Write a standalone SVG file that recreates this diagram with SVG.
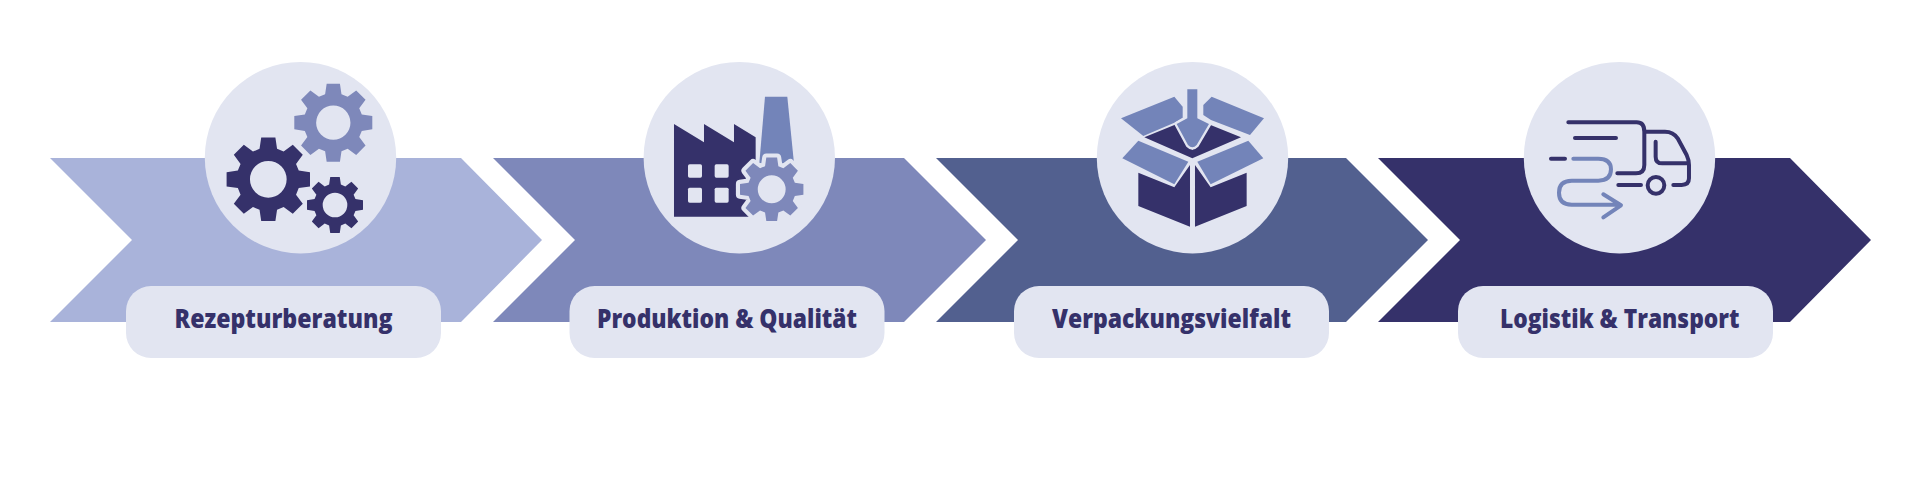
<svg xmlns="http://www.w3.org/2000/svg" xmlns:xlink="http://www.w3.org/1999/xlink" width="1920" height="480" viewBox="0 0 1920 480">
<style>
.disc,.pill{fill:#e2e5f1}
.label{font-family:"Open Sans","Liberation Sans",sans-serif;font-weight:800;font-size:26px;fill:#35316a}
.dark{fill:#35316a}
.mid{fill:#7384b9}
.gearmid{fill:#7e88ba}
.win{fill:#e2e5f1}
.ln{fill:none;stroke:#35316a;stroke-width:12;stroke-linecap:round;stroke-linejoin:round}
.lm{fill:none;stroke:#7384b9;stroke-width:12;stroke-linecap:round;stroke-linejoin:round}
</style>
<defs>
<path id="gear" fill-rule="evenodd" d="M73-21L100-17V17L73 21L66.5 36.8L82.7 58.7L58.7 82.7L36.8 66.5L21 73L17 100H-17L-21 73L-36.8 66.5L-58.7 82.7L-82.7 58.7L-66.5 36.8L-73 21L-100 17V-17L-73-21L-66.5-36.8L-82.7-58.7L-58.7-82.7L-36.8-66.5L-21-73L-17-100H17L21-73L36.8-66.5L58.7-82.7L82.7-58.7L66.5-36.8ZM44 0A44 44 0 1 0-44 0A44 44 0 1 0 44 0Z"/>
</defs>
<g id="step-rezepturberatung">
<path fill="#a9b3da" d="M50 158H461L542 240L461 322H50L132 240Z"/>
<circle class="disc" cx="300.5" cy="157.7" r="95.7"/>
<use xlink:href="#gear" class="dark" transform="translate(268.3 179.3) scale(.417)"/>
<use xlink:href="#gear" class="gearmid" transform="translate(333.3 122.7) scale(.39)"/>
<use xlink:href="#gear" class="dark" transform="translate(335 205) scale(.28)"/>
<rect class="pill" x="126" y="286" width="315" height="72" rx="25"/>
<text class="label" x="174.5" y="328" textLength="218" lengthAdjust="spacingAndGlyphs">Rezepturberatung</text>
</g>
<g id="step-produktion">
<path fill="#7e88ba" d="M493 158H904L986 240L904 322H493L575 240Z"/>
<circle class="disc" cx="739.3" cy="157.7" r="95.7"/>
<g transform="translate(630 50) scale(.3333)">
<path class="mid" d="M405 140H472L492 340H388Z"/>
<path class="dark" d="M132 222L222 277V222L312 277V222L377 262V500H132Z"/>
<rect class="win" x="174" y="343" width="42" height="40" rx="5"/>
<rect class="win" x="254" y="343" width="42" height="40" rx="5"/>
<rect class="win" x="174" y="413" width="42" height="45" rx="5"/>
<rect class="win" x="254" y="413" width="42" height="45" rx="5"/>
</g>
<use xlink:href="#gear" class="gearmid" style="stroke:#e2e5f1;stroke-width:26;paint-order:stroke;stroke-linejoin:round" transform="translate(771.7 189.3) scale(.317)"/>
<rect class="pill" x="569.5" y="286" width="315" height="72" rx="25"/>
<text class="label" x="597" y="328" textLength="260" lengthAdjust="spacingAndGlyphs">Produktion &amp; Qualität</text>
</g>
<g id="step-verpackungsvielfalt">
<path fill="#52608f" d="M936 158H1346L1428 240L1346 322H936L1018 240Z"/>
<circle class="disc" cx="1192.5" cy="157.7" r="95.7"/>
<g transform="translate(1085 50) scale(.3333)">
<path class="dark" d="M178 262L270 224L322 300L375 224L468 262L322 325Z"/>
<path class="mid" d="M108 205L268 140L293 170V203L268 218L175 258Z"/>
<path class="mid" d="M355 195V165L380 140L537 205L495 255L378 210Z"/>
<path class="mid" style="stroke:#e2e5f1;stroke-width:14;paint-order:stroke;stroke-linejoin:round" d="M307 118H337V205L372 222L335 285Q322 298 309 285L275 222L307 205Z"/>
<path class="mid" d="M112 325L160 272L310 335L268 403Z"/>
<path class="mid" d="M337 335L490 272L535 325L377 403Z"/>
<path class="dark" d="M160 368L268 412L315 345V530L160 468Z"/>
<path class="dark" d="M330 345L377 412L485 368V468L330 530Z"/>
</g>
<rect class="pill" x="1014" y="286" width="315" height="72" rx="25"/>
<text class="label" x="1052" y="328" textLength="239" lengthAdjust="spacingAndGlyphs">Verpackungsvielfalt</text>
</g>
<g id="step-logistik">
<path fill="#35316a" d="M1378 158H1790L1871 240L1790 322H1378L1460 240Z"/>
<circle class="disc" cx="1619.5" cy="157.7" r="95.7"/>
<g transform="translate(1510 50) scale(.3333)">
<path class="ln" d="M175 217H380Q403 217 403 245V345Q403 370 378 370H322"/>
<path class="ln" d="M405 245H465Q490 245 503 265L530 315Q537 330 537 345V385Q537 405 515 405H490"/>
<path class="ln" d="M437 275V320Q437 340 457 340H530"/>
<path class="ln" d="M195 264H318M123 326H165M325 405H393"/>
<circle class="ln" cx="438" cy="406" r="25"/>
<path class="lm" d="M190 326H265Q303 326 303 358Q303 392 265 392H185Q147 392 147 428Q147 464 185 464H330M280 433L333 466L280 502"/>
</g>
<rect class="pill" x="1458" y="286" width="315" height="72" rx="25"/>
<text class="label" x="1500" y="328" textLength="239.5" lengthAdjust="spacingAndGlyphs">Logistik &amp; Transport</text>
</g>
</svg>
